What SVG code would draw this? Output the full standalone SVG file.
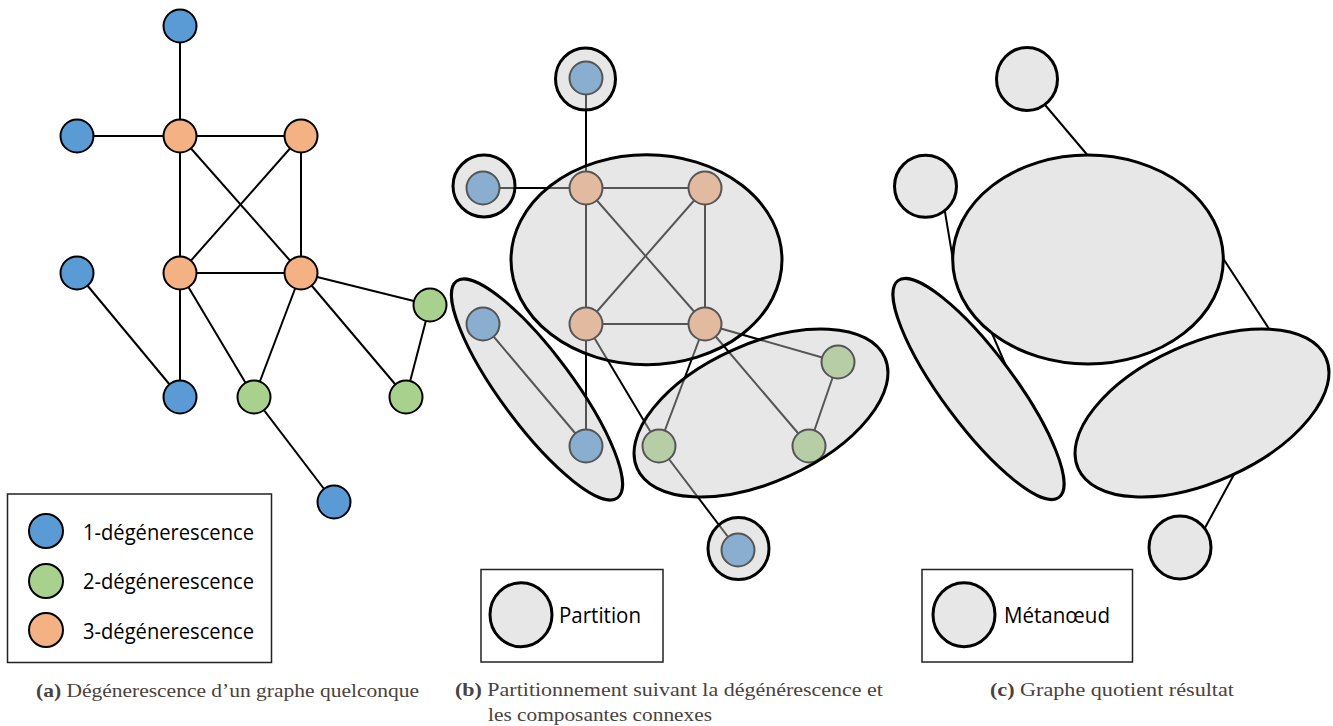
<svg xmlns="http://www.w3.org/2000/svg" width="1333" height="726" viewBox="0 0 1333 726">
<style>
.e{stroke:#000;stroke-width:2;fill:none}
.n{stroke:#000;stroke-width:2}
.b{fill:#5b9bd5}.g{fill:#a9d18e}.o{fill:#f4b183}
.ov{fill:#c7c7c7;fill-opacity:0.427;stroke:#000;stroke-width:3}
.mn{fill:#e7e7e7;stroke:#000;stroke-width:3}
.lg{font-family:"Open Sans","Liberation Sans",sans-serif;font-size:21px;fill:#000}
.cap{font-family:"Liberation Serif","DejaVu Serif",serif;font-size:19px;fill:#4a423c}
.box{fill:#fff;stroke:#222;stroke-width:1.5}
</style>
<rect width="1333" height="726" fill="#fff"/>

<!-- Panel a -->
<g id="edges-a" class="e">
<line x1="180" y1="26" x2="180" y2="136"/>
<line x1="77" y1="136" x2="180" y2="136"/>
<line x1="180" y1="136" x2="301" y2="136"/>
<line x1="180" y1="136" x2="180" y2="273"/>
<line x1="180" y1="136" x2="301" y2="273"/>
<line x1="301" y1="136" x2="180" y2="273"/>
<line x1="301" y1="136" x2="301" y2="273"/>
<line x1="180" y1="273" x2="301" y2="273"/>
<line x1="77" y1="273" x2="180" y2="397"/>
<line x1="180" y1="273" x2="180" y2="397"/>
<line x1="180" y1="273" x2="254" y2="397"/>
<line x1="301" y1="273" x2="254" y2="397"/>
<line x1="301" y1="273" x2="430" y2="305"/>
<line x1="301" y1="273" x2="406" y2="397"/>
<line x1="430" y1="305" x2="406" y2="397"/>
<line x1="254" y1="397" x2="334" y2="502"/>
</g>
<g id="a-n1"><circle class="n b" cx="180" cy="26" r="16.5"/></g>
<g id="a-n2"><circle class="n b" cx="77" cy="136" r="16.5"/></g>
<g id="a-n3"><circle class="n o" cx="180" cy="136" r="16.5"/></g>
<g id="a-n4"><circle class="n o" cx="301" cy="136" r="16.5"/></g>
<g id="a-n5"><circle class="n b" cx="77" cy="273" r="16.5"/></g>
<g id="a-n6"><circle class="n o" cx="180" cy="273" r="16.5"/></g>
<g id="a-n7"><circle class="n o" cx="301" cy="273" r="16.5"/></g>
<g id="a-n8"><circle class="n g" cx="430" cy="305" r="16.5"/></g>
<g id="a-n9"><circle class="n b" cx="180" cy="397" r="16.5"/></g>
<g id="a-n10"><circle class="n g" cx="254" cy="397" r="16.5"/></g>
<g id="a-n11"><circle class="n g" cx="406" cy="397" r="16.5"/></g>
<g id="a-n12"><circle class="n b" cx="334" cy="502" r="16.5"/></g>

<g id="legend-a">
<rect class="box" x="7.5" y="494" width="264" height="168.5"/>
<circle class="n b" cx="46" cy="531" r="17"/>
<circle class="n g" cx="46" cy="581" r="17"/>
<circle class="n o" cx="46" cy="630" r="17"/>
<text class="lg" x="83" y="540" textLength="171" lengthAdjust="spacingAndGlyphs">1-dégénerescence</text>
<text class="lg" x="83" y="589" textLength="171" lengthAdjust="spacingAndGlyphs">2-dégénerescence</text>
<text class="lg" x="83" y="638.5" textLength="171" lengthAdjust="spacingAndGlyphs">3-dégénerescence</text>
</g>

<!-- Panel b -->
<g id="edges-b" class="e">
<line x1="586" y1="78" x2="586" y2="188"/>
<line x1="483" y1="188" x2="586" y2="188"/>
<line x1="586" y1="188" x2="705" y2="188"/>
<line x1="586" y1="188" x2="586" y2="324"/>
<line x1="586" y1="188" x2="705" y2="324"/>
<line x1="705" y1="188" x2="586" y2="324"/>
<line x1="705" y1="188" x2="705" y2="324"/>
<line x1="586" y1="324" x2="705" y2="324"/>
<line x1="586" y1="324" x2="586" y2="446"/>
<line x1="483" y1="324" x2="586" y2="446"/>
<line x1="586" y1="324" x2="659" y2="446"/>
<line x1="705" y1="324" x2="659" y2="446"/>
<line x1="705" y1="324" x2="838" y2="362"/>
<line x1="705" y1="324" x2="809" y2="446"/>
<line x1="838" y1="362" x2="809" y2="446"/>
<line x1="659" y1="446" x2="738" y2="550"/>
</g>
<g id="b-n1"><circle class="n b" cx="586" cy="78" r="16.5"/></g>
<g id="b-n2"><circle class="n b" cx="483" cy="188" r="16.5"/></g>
<g id="b-n3"><circle class="n o" cx="586" cy="188" r="16.5"/></g>
<g id="b-n4"><circle class="n o" cx="705" cy="188" r="16.5"/></g>
<g id="b-n5"><circle class="n b" cx="483" cy="324" r="16.5"/></g>
<g id="b-n6"><circle class="n o" cx="586" cy="324" r="16.5"/></g>
<g id="b-n7"><circle class="n o" cx="705" cy="324" r="16.5"/></g>
<g id="b-n8"><circle class="n b" cx="586" cy="446" r="16.5"/></g>
<g id="b-n9"><circle class="n g" cx="659" cy="446" r="16.5"/></g>
<g id="b-n10"><circle class="n g" cx="838" cy="362" r="16.5"/></g>
<g id="b-n11"><circle class="n g" cx="809" cy="446" r="16.5"/></g>
<g id="b-n12"><circle class="n b" cx="738" cy="550" r="16.5"/></g>

<g id="partitions-b">
<ellipse class="ov" cx="585.5" cy="79" rx="30" ry="31"/>
<ellipse class="ov" cx="484" cy="186" rx="31" ry="31"/>
<ellipse class="ov" cx="646.5" cy="259.8" rx="135.5" ry="105"/>
<ellipse class="ov" cx="537" cy="389.5" rx="135" ry="36" transform="rotate(53.4 537 389.5)"/>
<ellipse class="ov" cx="761" cy="413" rx="135.7" ry="69" transform="rotate(-24.2 761 413)"/>
<ellipse class="ov" cx="738.5" cy="548.6" rx="30.5" ry="31"/>
</g>

<g id="legend-b">
<rect class="box" x="481" y="569.5" width="182" height="92.5"/>
<ellipse class="mn" cx="521" cy="614.7" rx="31" ry="32"/>
<text class="lg" x="559" y="623" textLength="82" lengthAdjust="spacingAndGlyphs">Partition</text>
</g>

<!-- Panel c -->
<g id="edges-c" class="e">
<line x1="1040" y1="99" x2="1095" y2="164"/>
<line x1="943" y1="200" x2="955" y2="272"/>
<line x1="985" y1="317" x2="1006" y2="366"/>
<line x1="1215" y1="246" x2="1275" y2="338"/>
<line x1="1237" y1="469" x2="1200" y2="537"/>
</g>
<g id="c-m1"><ellipse class="mn" cx="1027" cy="79" rx="30.5" ry="31.5"/></g>
<g id="c-m2"><ellipse class="mn" cx="925.5" cy="186.3" rx="31" ry="31"/></g>
<g id="c-m3"><ellipse class="mn" cx="1088" cy="259.5" rx="135.3" ry="104.5"/></g>
<g id="c-m4"><ellipse class="mn" cx="978.5" cy="389" rx="135" ry="36" transform="rotate(53.4 978.5 389)"/></g>
<g id="c-m5"><ellipse class="mn" cx="1202" cy="413" rx="135.7" ry="69" transform="rotate(-24.2 1202 413)"/></g>
<g id="c-m6"><ellipse class="mn" cx="1180" cy="547.5" rx="31" ry="31.5"/></g>

<g id="legend-c">
<rect class="box" x="922" y="569.5" width="210.5" height="92.5"/>
<ellipse class="mn" cx="964" cy="614.7" rx="31" ry="32"/>
<text class="lg" x="1004" y="623" textLength="106" lengthAdjust="spacingAndGlyphs">Métanœud</text>
</g>

<!-- Captions -->
<g id="captions">
<text class="cap" x="36" y="696.5" textLength="383" lengthAdjust="spacingAndGlyphs"><tspan font-weight="bold">(a)</tspan> Dégénerescence d’un graphe quelconque</text>
<text class="cap" x="455" y="696" textLength="428" lengthAdjust="spacingAndGlyphs"><tspan font-weight="bold">(b)</tspan> Partitionnement suivant la dégénérescence et</text>
<text class="cap" x="488" y="720.5" textLength="224" lengthAdjust="spacingAndGlyphs">les composantes connexes</text>
<text class="cap" x="990" y="696" textLength="244" lengthAdjust="spacingAndGlyphs"><tspan font-weight="bold">(c)</tspan> Graphe quotient résultat</text>
</g>
</svg>
